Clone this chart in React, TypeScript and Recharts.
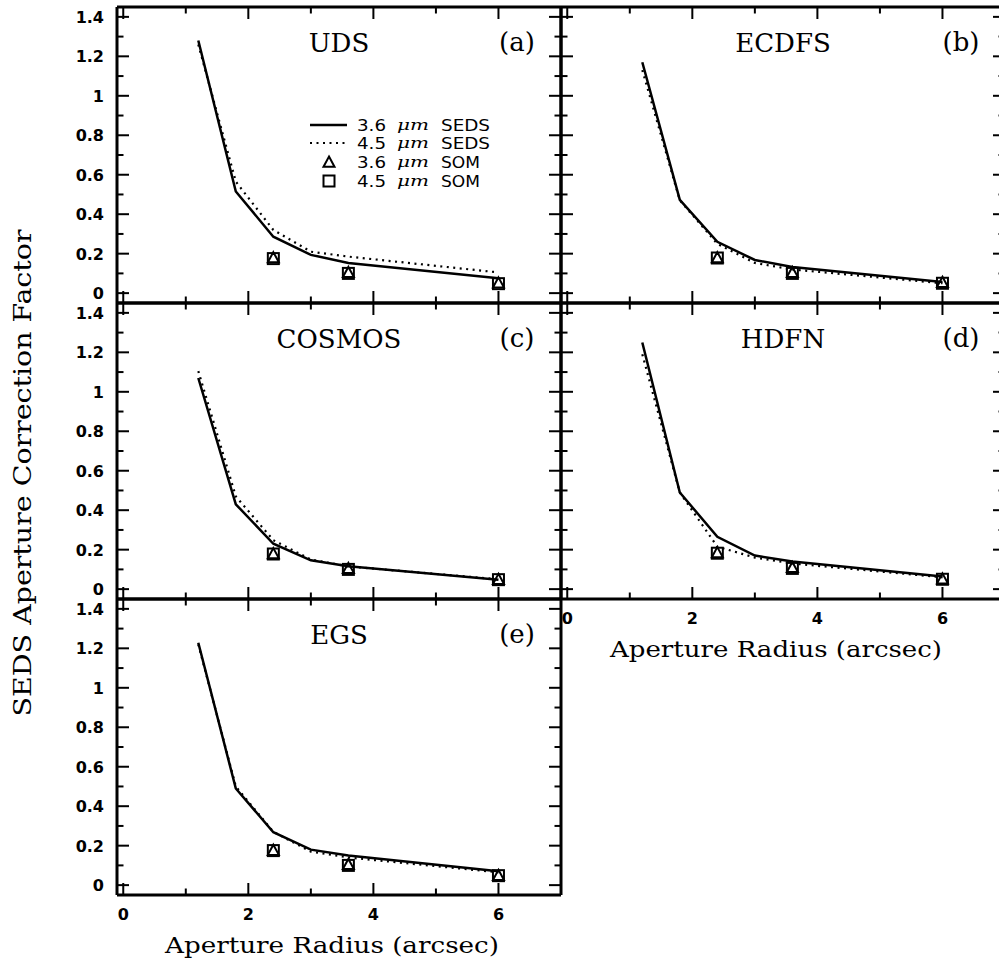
import React from 'react';
import { ComposedChart, Line, Scatter, XAxis, YAxis } from 'recharts';

// aperture radii (arcsec) of the SEDS curves and of the SOM points
const radii = [1.2, 1.8, 2.4, 3.0, 3.6, 6.0];
const somRadii = [2.4, 3.6, 6.0];

const xTicks = [0, 1, 2, 3, 4, 5, 6];
const yTicks = [0, 0.1, 0.2, 0.3, 0.4, 0.5, 0.6, 0.7, 0.8, 0.9, 1, 1.1, 1.2, 1.3, 1.4];

const udsSeds36 = [1.28, 0.515, 0.286, 0.194, 0.153, 0.076];
const udsSeds45 = [1.26, 0.565, 0.32, 0.21, 0.185, 0.105];
const udsSom36 = [0.18, 0.105, 0.052];
const udsSom45 = [0.175, 0.1, 0.048];

const ecdfsSeds36 = [1.17, 0.473, 0.26, 0.168, 0.133, 0.056];
const ecdfsSeds45 = [1.13, 0.47, 0.25, 0.153, 0.12, 0.05];
const ecdfsSom36 = [0.18, 0.105, 0.055];
const ecdfsSom45 = [0.178, 0.1, 0.05];

const cosmosSeds36 = [1.07, 0.43, 0.23, 0.146, 0.116, 0.048];
const cosmosSeds45 = [1.105, 0.47, 0.248, 0.15, 0.115, 0.05];
const cosmosSom36 = [0.18, 0.105, 0.05];
const cosmosSom45 = [0.178, 0.1, 0.048];

const hdfnSeds36 = [1.25, 0.49, 0.265, 0.17, 0.14, 0.064];
const hdfnSeds45 = [1.19, 0.49, 0.215, 0.16, 0.13, 0.06];
const hdfnSom36 = [0.185, 0.11, 0.052];
const hdfnSom45 = [0.182, 0.105, 0.05];

const egsSeds36 = [1.228, 0.49, 0.268, 0.18, 0.15, 0.07];
const egsSeds45 = [1.22, 0.5, 0.27, 0.17, 0.14, 0.065];
const egsSom36 = [0.177, 0.105, 0.05];
const egsSom45 = [0.175, 0.1, 0.048];

const panels = [
  { name: 'UDS', tag: '(a)', col: 0, row: 0, s36: udsSeds36, s45: udsSeds45, m36: udsSom36, m45: udsSom45 },
  { name: 'ECDFS', tag: '(b)', col: 1, row: 0, s36: ecdfsSeds36, s45: ecdfsSeds45, m36: ecdfsSom36, m45: ecdfsSom45 },
  { name: 'COSMOS', tag: '(c)', col: 0, row: 1, s36: cosmosSeds36, s45: cosmosSeds45, m36: cosmosSom36, m45: cosmosSom45 },
  { name: 'HDFN', tag: '(d)', col: 1, row: 1, s36: hdfnSeds36, s45: hdfnSeds45, m36: hdfnSom36, m45: hdfnSom45, xLabels: true },
  { name: 'EGS', tag: '(e)', col: 0, row: 2, s36: egsSeds36, s45: egsSeds45, m36: egsSom36, m45: egsSom45, xLabels: true },
];

const COL_X = [117, 561];
const ROW_Y = [7, 303, 599];
const PW = 444;
const PH = 296;
const M = { top: 12, right: 12, bottom: 75, left: 112 };
const AX = 1; // axis band size; recharts skips axes of size 0

const TICK_FONT = '"DejaVu Sans", sans-serif';
const SERIF = '"DejaVu Serif", serif';
const frame = { stroke: '#000', strokeWidth: 3 };

const makeTick = (side: string, labels: boolean) => (props: any) => {
  const { x, y, payload } = props;
  const v = payload.value as number;
  const horiz = side === 'top' || side === 'bottom';
  const major = horiz ? Math.round(v) % 2 === 0 : Math.round(v * 10) % 2 === 0;
  const len = major ? 12 : 6.5;
  let x2 = x;
  let y2 = y;
  if (side === 'bottom') y2 = y - len;
  if (side === 'top') y2 = y + len;
  if (side === 'left') x2 = x + len;
  if (side === 'right') x2 = x - len;
  const label = String(Math.round(v * 10) / 10);
  return (
    <g>
      <line x1={x} y1={y} x2={x2} y2={y2} stroke="#000" strokeWidth={2} />
      {labels && major && side === 'bottom' && (
        <text x={x} y={y + 25} textAnchor="middle" fontFamily={TICK_FONT} fontWeight="bold" fontSize={16} fill="#000">
          {label}
        </text>
      )}
      {labels && major && side === 'left' && (
        <text x={x - 13} y={y + 6} textAnchor="end" fontFamily={TICK_FONT} fontWeight="bold" fontSize={16} fill="#000">
          {label}
        </text>
      )}
    </g>
  );
};

const Triangle = (props: any) => {
  const { cx, cy } = props;
  const s = 5.5;
  return <path d={`M${cx},${cy - s} L${cx + s},${cy + s * 0.85} L${cx - s},${cy + s * 0.85} Z`} fill="none" stroke="#000" strokeWidth={2} />;
};

const Square = (props: any) => {
  const { cx, cy } = props;
  const s = 5.5;
  return <rect x={cx - s} y={cy - s} width={2 * s} height={2 * s} fill="none" stroke="#000" strokeWidth={2} />;
};

function Panel({ p }: { p: any }) {
  const L = COL_X[p.col];
  const T = ROW_Y[p.row];
  const data = radii.map((r, i) => ({ r, s36: p.s36[i], s45: p.s45[i] }));
  const som36 = somRadii.map((r, i) => ({ r, v: p.m36[i] }));
  const som45 = somRadii.map((r, i) => ({ r, v: p.m45[i] }));
  const xCommon = {
    type: 'number' as const,
    dataKey: 'r',
    domain: [-0.1, 7],
    allowDataOverflow: true,
    ticks: xTicks,
    interval: 0,
    height: AX,
    tickSize: 0,
    tickMargin: 0,
    tickLine: false,
    axisLine: frame,
  };
  const yCommon = {
    type: 'number' as const,
    domain: [-0.05, 1.45],
    allowDataOverflow: true,
    ticks: yTicks,
    interval: 0,
    width: AX,
    tickSize: 0,
    tickMargin: 0,
    tickLine: false,
    axisLine: frame,
  };
  return (
    <div style={{ position: 'absolute', left: L - M.left - AX, top: T - M.top - AX }}>
      <ComposedChart
        width={PW + M.left + M.right + 2 * AX}
        height={PH + M.top + M.bottom + 2 * AX}
        data={data}
        margin={M}
      >
        <XAxis xAxisId="b" orientation="bottom" {...xCommon} tick={makeTick('bottom', !!p.xLabels)} />
        <XAxis xAxisId="t" orientation="top" {...xCommon} tick={makeTick('top', false)} />
        <YAxis yAxisId="l" orientation="left" {...yCommon} tick={makeTick('left', p.col === 0)} />
        <YAxis yAxisId="r" orientation="right" {...yCommon} tick={makeTick('right', false)} />
        <Line xAxisId="b" yAxisId="l" type="linear" dataKey="s45" stroke="#000" strokeWidth={2.2} strokeDasharray="2 4.5" dot={false} isAnimationActive={false} />
        <Line xAxisId="b" yAxisId="l" type="linear" dataKey="s36" stroke="#000" strokeWidth={2.5} dot={false} isAnimationActive={false} />
        <Scatter xAxisId="b" yAxisId="l" data={som45} dataKey="v" shape={Square} isAnimationActive={false} />
        <Scatter xAxisId="b" yAxisId="l" data={som36} dataKey="v" shape={Triangle} isAnimationActive={false} />
      </ComposedChart>
    </div>
  );
}

function Overlay() {
  const legendRows = [
    { y: 125, kind: 'solid', a: '3.6', b: 'SEDS' },
    { y: 143, kind: 'dotted', a: '4.5', b: 'SEDS' },
    { y: 162, kind: 'tri', a: '3.6', b: 'SOM' },
    { y: 181, kind: 'sq', a: '4.5', b: 'SOM' },
  ];
  return (
    <svg width={999} height={964} style={{ position: 'absolute', left: 0, top: 0, pointerEvents: 'none' }}>
      {panels.map((p) => {
        const L = COL_X[p.col];
        const T = ROW_Y[p.row];
        return (
          <g key={p.name}>
            <text x={L + PW / 2} y={T + 45} textAnchor="middle" fontFamily={SERIF} fontSize={26} fill="#000">
              {p.name}
            </text>
            <text x={L + 400} y={T + 44} textAnchor="middle" fontFamily={SERIF} fontSize={26} fill="#000">
              {p.tag}
            </text>
          </g>
        );
      })}
      {legendRows.map((r) => (
        <g key={r.y}>
          {r.kind === 'solid' && <line x1={310} x2={347} y1={r.y} y2={r.y} stroke="#000" strokeWidth={2.5} />}
          {r.kind === 'dotted' && <line x1={310} x2={347} y1={r.y} y2={r.y} stroke="#000" strokeWidth={2.2} strokeDasharray="2 4.5" />}
          {r.kind === 'tri' && <Triangle cx={329} cy={r.y} />}
          {r.kind === 'sq' && <Square cx={329} cy={r.y} />}
          <text x={357} y={r.y + 6} fontFamily={TICK_FONT} fontSize={15} fill="#000" textLength={29} lengthAdjust="spacingAndGlyphs">{r.a}</text>
          <text x={397} y={r.y + 5} fontFamily={SERIF} fontStyle="italic" fontSize={15} fill="#000" textLength={32} lengthAdjust="spacingAndGlyphs">μm</text>
          <text x={441} y={r.y + 6} fontFamily={TICK_FONT} fontSize={15} fill="#000" textLength={r.b === 'SEDS' ? 49 : 39} lengthAdjust="spacingAndGlyphs">{r.b}</text>
        </g>
      ))}
      <text x={332} y={953} textAnchor="middle" fontFamily={SERIF} fontSize={23} textLength={334} lengthAdjust="spacingAndGlyphs" fill="#000">
        Aperture Radius (arcsec)
      </text>
      <text x={776} y={657} textAnchor="middle" fontFamily={SERIF} fontSize={23} textLength={332} lengthAdjust="spacingAndGlyphs" fill="#000">
        Aperture Radius (arcsec)
      </text>
      <text x={31} y={473} transform="rotate(-90 31 473)" textAnchor="middle" fontFamily={SERIF} fontSize={24} textLength={487} lengthAdjust="spacingAndGlyphs" fill="#000">
        SEDS Aperture Correction Factor
      </text>
    </svg>
  );
}

export default function App() {
  return (
    <div style={{ position: 'absolute', left: 0, top: 0, width: 999, height: 964, overflow: 'hidden', background: '#fff' }}>
      {panels.map((p) => (
        <Panel key={p.name} p={p} />
      ))}
      <Overlay />
    </div>
  );
}
